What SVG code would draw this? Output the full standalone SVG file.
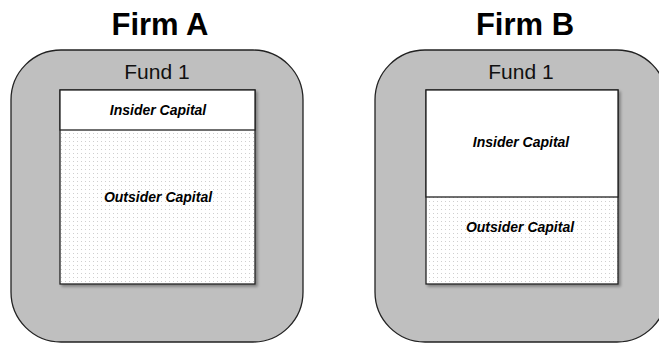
<svg xmlns="http://www.w3.org/2000/svg" width="659" height="343" viewBox="0 0 659 343">
  <defs>
    <pattern id="dots" width="4" height="4" patternUnits="userSpaceOnUse">
      <rect width="4" height="4" fill="#ffffff"/>
      <rect x="1" y="1" width="1" height="1" fill="#cfcfcf"/>
    </pattern>
    <filter id="shadow" x="-10%" y="-10%" width="125%" height="125%">
      <feGaussianBlur in="SourceAlpha" stdDeviation="1.5"/>
      <feOffset dx="2" dy="2" result="b"/>
      <feComponentTransfer><feFuncA type="linear" slope="0.35"/></feComponentTransfer>
      <feMerge><feMergeNode/><feMergeNode in="SourceGraphic"/></feMerge>
    </filter>
    <style>
      .title { font-family: "Liberation Sans", Arial, sans-serif; font-weight: bold; font-size: 31px; fill: #000; text-anchor: middle; }
      .fund { font-family: "Liberation Sans", Arial, sans-serif; font-size: 21px; fill: #111; text-anchor: middle; }
      .cap { font-family: "Liberation Sans", Arial, sans-serif; font-weight: bold; font-style: italic; font-size: 14px; fill: #000; text-anchor: middle; }
      .outer { fill: #bfbfbf; stroke: #222; stroke-width: 1.3; }
      .box { stroke: #222; stroke-width: 1.3; }
    </style>
  </defs>

  <g id="firm-a">
    <text class="title" x="160" y="35">Firm A</text>
    <rect class="outer" x="11" y="50" width="292" height="292" rx="50" ry="50"/>
    <text class="fund" x="157" y="79">Fund 1</text>
    <g filter="url(#shadow)">
      <rect class="box" x="60" y="90" width="195" height="194" fill="url(#dots)"/>
    </g>
    <rect class="box" x="60" y="90" width="195" height="40" fill="#ffffff"/>
    <text class="cap" x="158" y="115">Insider Capital</text>
    <text class="cap" x="158" y="202">Outsider Capital</text>
  </g>

  <g id="firm-b">
    <text class="title" x="525" y="35">Firm B</text>
    <rect class="outer" x="375" y="50" width="292" height="292" rx="50" ry="50"/>
    <text class="fund" x="521" y="79">Fund 1</text>
    <g filter="url(#shadow)">
      <rect class="box" x="426" y="90" width="192" height="194" fill="url(#dots)"/>
    </g>
    <rect class="box" x="426" y="90" width="192" height="107" fill="#ffffff"/>
    <text class="cap" x="521" y="147">Insider Capital</text>
    <text class="cap" x="520" y="232">Outsider Capital</text>
  </g>
</svg>
